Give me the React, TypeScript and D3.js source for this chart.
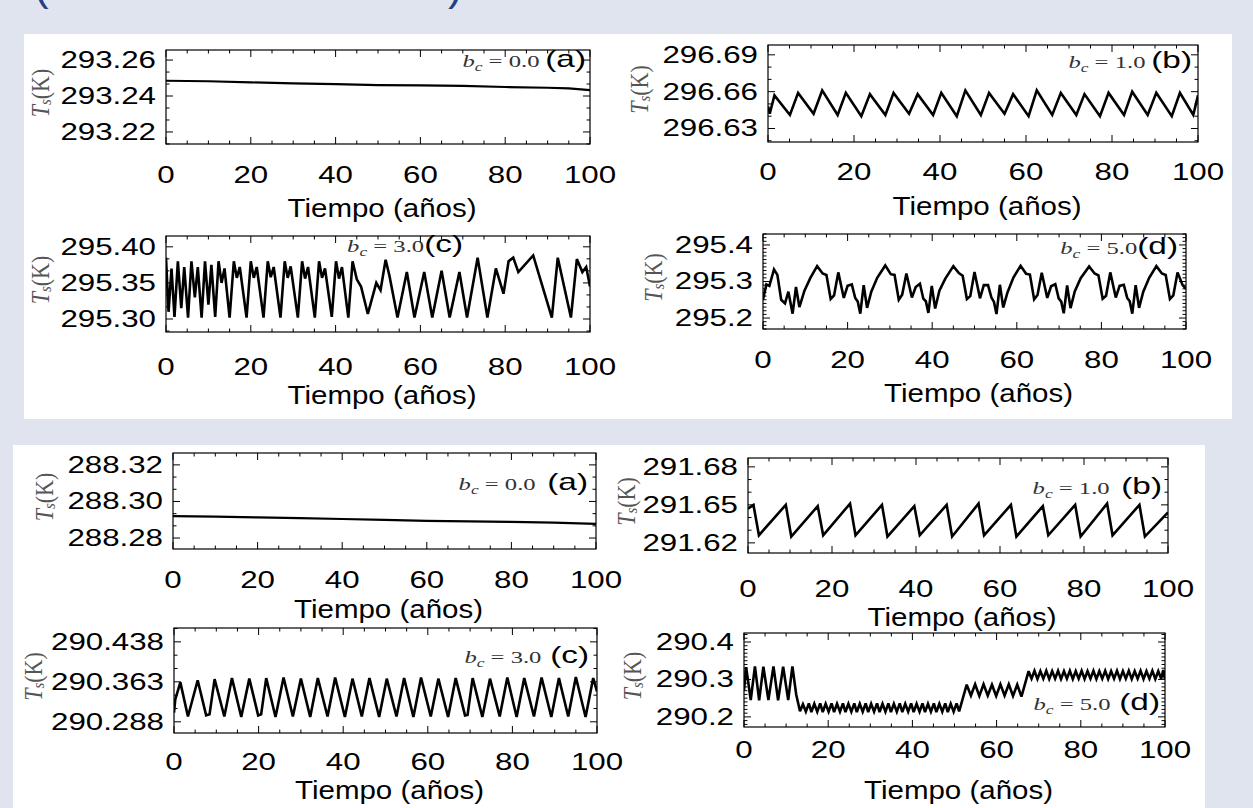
import React from 'react';
import * as d3 from 'd3';

const W = 1253;
const H = 808;

const SANS = "'Liberation Sans', Arial, Helvetica, sans-serif";
const SERIF = "'Liberation Serif', 'DejaVu Serif', serif";

// shared time axis (years)
const xTicks = [0, 20, 40, 60, 80, 100];
const xMinorStep = 5;

// ---------- upper figure ----------
const yTicksA1 = [293.22, 293.24, 293.26];
const tsA1 = [
  [0, 293.2485], [10, 293.2482], [20, 293.2476], [30, 293.247], [40, 293.2466], [50, 293.2461],
  [60, 293.2459], [70, 293.2456], [80, 293.245], [90, 293.2446], [95, 293.2443], [100, 293.2433],
];

const yTicksB1 = [296.63, 296.66, 296.69];
const tsB1 = [
  [0, 296.648], [0.4, 296.642], [1.5, 296.657], [5.1, 296.641], [7.0, 296.659], [10.6, 296.642],
  [12.6, 296.661], [16.2, 296.641], [18.1, 296.659], [21.7, 296.64], [23.7, 296.658], [27.3, 296.641],
  [29.2, 296.659], [32.8, 296.642], [34.8, 296.658], [38.4, 296.641], [40.3, 296.659], [43.9, 296.64],
  [45.9, 296.661], [49.5, 296.641], [51.4, 296.659], [55.0, 296.642], [57.0, 296.658], [60.6, 296.64],
  [62.5, 296.661], [66.1, 296.641], [68.1, 296.659], [71.7, 296.641], [73.6, 296.658], [77.2, 296.64],
  [79.2, 296.659], [82.8, 296.641], [84.7, 296.66], [88.3, 296.641], [90.3, 296.659], [93.9, 296.64],
  [95.8, 296.659], [98.9, 296.641], [100, 296.657],
];

const yTicksC1 = [295.3, 295.35, 295.4];
const tsC1 = [
  [0, 295.385], [0.6, 295.31], [1.3, 295.37], [2.0, 295.303], [2.8, 295.38], [3.6, 295.315],
  [4.3, 295.372], [5.2, 295.302], [6.0, 295.38], [6.8, 295.33], [7.5, 295.372], [8.4, 295.302],
  [9.2, 295.38], [10.0, 295.32], [10.7, 295.375], [11.6, 295.303], [12.4, 295.38], [13.1, 295.35],
  [13.8, 295.37], [15.0, 295.302], [16.0, 295.38], [16.7, 295.357], [17.4, 295.372], [19.0, 295.302],
  [20.0, 295.38], [20.7, 295.357], [21.4, 295.372], [23.0, 295.302], [24.0, 295.38], [24.7, 295.358],
  [25.4, 295.372], [27.0, 295.302], [28.0, 295.38], [28.7, 295.357], [29.4, 295.373], [31.1, 295.302],
  [32.1, 295.38], [32.8, 295.356], [33.5, 295.372], [35.1, 295.302], [36.1, 295.38], [36.8, 295.357],
  [37.5, 295.37], [39.1, 295.303], [40.1, 295.38], [40.8, 295.356], [41.5, 295.372], [43.0, 295.302],
  [44.0, 295.38], [45.0, 295.355], [46.0, 295.345], [47.6, 295.307], [49.6, 295.35], [50.6, 295.34],
  [51.8, 295.382], [52.7, 295.36], [54.6, 295.302], [56.8, 295.365], [58.6, 295.302], [60.9, 295.365],
  [62.8, 295.302], [65.0, 295.367], [66.9, 295.302], [69.2, 295.365], [71.0, 295.302], [73.5, 295.385],
  [75.8, 295.302], [77.8, 295.37], [79.6, 295.335], [80.8, 295.38], [81.9, 295.385], [83.1, 295.365],
  [86.6, 295.388], [91.0, 295.302], [92.4, 295.385], [95.5, 295.302], [96.9, 295.383], [98.2, 295.365],
  [99.1, 295.372], [100, 295.345],
];

const yTicksD1 = [295.2, 295.3, 295.4];
const tsD1 = [
  [0, 295.25], [0.8, 295.292], [1.5, 295.288], [2.6, 295.333], [3.4, 295.318], [4.3, 295.25],
  [5.2, 295.24], [6.0, 295.272], [7.0, 295.212], [7.8, 295.285], [8.6, 295.23], [9.8, 295.275],
  [11.2, 295.31],
  [12.8, 295.342], [14.1, 295.322], [15.0, 295.318], [16.0, 295.252], [16.8, 295.262], [17.8, 295.325],
  [19.1, 295.255], [20.0, 295.288], [21.0, 295.292], [21.8, 295.255], [22.4, 295.245], [23.0, 295.212],
  [23.8, 295.29], [24.6, 295.228], [25.6, 295.272], [27.0, 295.31],
  [28.9, 295.344], [30.2, 295.32], [31.1, 295.318], [32.1, 295.25], [32.9, 295.264], [33.9, 295.322],
  [35.2, 295.256], [36.1, 295.285], [37.1, 295.294], [37.9, 295.253], [38.5, 295.246], [39.1, 295.214],
  [39.9, 295.288], [40.7, 295.226], [41.7, 295.275], [43.1, 295.308],
  [45.0, 295.342], [46.3, 295.323], [47.2, 295.316], [48.2, 295.252], [49.0, 295.26], [50.0, 295.326],
  [51.3, 295.254], [52.2, 295.29], [53.2, 295.29], [54.0, 295.256], [54.6, 295.244], [55.2, 295.211],
  [56.0, 295.291], [56.8, 295.229], [57.8, 295.27], [59.2, 295.311],
  [60.9, 295.343], [62.2, 295.321], [63.1, 295.319], [64.1, 295.251], [64.9, 295.263], [65.9, 295.324],
  [67.2, 295.255], [68.1, 295.287], [69.1, 295.293], [69.9, 295.254], [70.5, 295.245], [71.1, 295.213],
  [71.9, 295.289], [72.7, 295.227], [73.7, 295.273], [75.1, 295.309],
  [77.1, 295.341], [78.4, 295.322], [79.3, 295.317], [80.3, 295.253], [81.1, 295.261], [82.1, 295.325],
  [83.4, 295.256], [84.3, 295.288], [85.3, 295.291], [86.1, 295.255], [86.7, 295.246], [87.3, 295.212],
  [88.1, 295.29], [88.9, 295.228], [89.9, 295.272], [91.3, 295.31],
  [93.0, 295.342], [94.3, 295.322], [95.2, 295.318], [96.2, 295.252], [97.0, 295.262], [98.0, 295.325],
  [99.2, 295.29], [100, 295.28],
];

// ---------- lower figure ----------
const yTicksA2 = [288.28, 288.3, 288.32];
const tsA2 = [
  [0, 288.292], [10, 288.2917], [20, 288.2913], [30, 288.2909], [40, 288.2904], [50, 288.2899],
  [60, 288.2894], [70, 288.2891], [80, 288.2888], [90, 288.2884], [100, 288.2877],
];

const yTicksB2 = [291.62, 291.65, 291.68];
const tsB2 = [
  [0, 291.647], [1.3, 291.65], [2.6, 291.626], [9.0, 291.65], [10.3, 291.625], [16.6, 291.649],
  [17.9, 291.626], [24.3, 291.651], [25.6, 291.626], [31.9, 291.65], [33.2, 291.625], [39.6, 291.649],
  [40.9, 291.626], [47.3, 291.65], [48.6, 291.625], [54.9, 291.651], [56.2, 291.626], [62.6, 291.65],
  [63.9, 291.625], [70.2, 291.649], [71.5, 291.626], [77.9, 291.65], [79.2, 291.625], [85.5, 291.651],
  [86.8, 291.626], [93.2, 291.65], [94.5, 291.625], [100, 291.644],
];

const yTicksC2 = [290.288, 290.363, 290.438];
const tsC2 = [
  [0, 290.305], [0.3, 290.33], [1.5, 290.362], [3.3, 290.298], [5.6, 290.366], [7.6, 290.3],
  [8.4, 290.302], [9.6, 290.368], [11.9, 290.298], [13.7, 290.37], [15.9, 290.297], [17.8, 290.369],
  [19.9, 290.3], [20.6, 290.302], [21.8, 290.37], [24.0, 290.297], [25.9, 290.371], [28.1, 290.298],
  [30.0, 290.369], [32.2, 290.297], [34.0, 290.37], [36.3, 290.298], [38.1, 290.371], [40.4, 290.297],
  [42.2, 290.369], [44.4, 290.298], [46.2, 290.37], [48.5, 290.297], [50.3, 290.369], [52.6, 290.298],
  [54.4, 290.37], [56.6, 290.297], [58.4, 290.371], [60.7, 290.298], [62.5, 290.369], [64.8, 290.297],
  [66.6, 290.37], [68.8, 290.3], [69.4, 290.301], [70.6, 290.37], [72.9, 290.297], [74.7, 290.369],
  [77.0, 290.298], [78.8, 290.371], [81.0, 290.297], [82.8, 290.37], [85.1, 290.298], [86.9, 290.371],
  [89.2, 290.297], [91.0, 290.37], [93.2, 290.298], [95.0, 290.372], [97.3, 290.297], [99.1, 290.37],
  [100, 290.345],
];

const yTicksD2 = [290.2, 290.3, 290.4];
const tsD2 = [
  [0, 290.27], [0.5, 290.333], [1.6, 290.245], [2.6, 290.335], [3.6, 290.244], [4.6, 290.334],
  [5.8, 290.245], [7.0, 290.335], [8.1, 290.244], [9.3, 290.334], [10.5, 290.245], [11.5, 290.335],
  [12.4, 290.26], [13.3, 290.215],
  [14.0, 290.234], [14.7, 290.214], [15.4, 290.236], [16.0, 290.213], [16.7, 290.235], [17.4, 290.214],
  [18.1, 290.236], [18.7, 290.213], [19.4, 290.235], [20.1, 290.214], [20.8, 290.236], [21.4, 290.213],
  [22.1, 290.235], [22.8, 290.214], [23.5, 290.236], [24.1, 290.213], [24.8, 290.235], [25.5, 290.214],
  [26.2, 290.236], [26.8, 290.213], [27.5, 290.235], [28.2, 290.214], [28.9, 290.236], [29.5, 290.213],
  [30.2, 290.235], [30.9, 290.214], [31.6, 290.236], [32.2, 290.213], [32.9, 290.235], [33.6, 290.214],
  [34.3, 290.236], [34.9, 290.213], [35.6, 290.235], [36.3, 290.214], [37.0, 290.236], [37.6, 290.213],
  [38.3, 290.235], [39.0, 290.214], [39.7, 290.236], [40.3, 290.213], [41.0, 290.235], [41.7, 290.214],
  [42.4, 290.236], [43.0, 290.213], [43.7, 290.235], [44.4, 290.214], [45.1, 290.236], [45.7, 290.213],
  [46.4, 290.235], [47.1, 290.214], [47.8, 290.236], [48.4, 290.213], [49.1, 290.235], [49.8, 290.214],
  [50.5, 290.236], [51.1, 290.215],
  [52.9, 290.286], [53.9, 290.257], [54.9, 290.287], [55.9, 290.256], [56.9, 290.287], [57.9, 290.257],
  [58.9, 290.286], [59.9, 290.256], [60.9, 290.287], [61.9, 290.257], [62.9, 290.287], [63.9, 290.256],
  [64.9, 290.286], [65.9, 290.254],
  [67.6, 290.322], [68.3, 290.302], [69.0, 290.323], [69.7, 290.301], [70.4, 290.322], [71.1, 290.302],
  [71.8, 290.323], [72.5, 290.301], [73.2, 290.322], [73.9, 290.302], [74.6, 290.323], [75.3, 290.301],
  [76.0, 290.322], [76.7, 290.302], [77.4, 290.323], [78.1, 290.301], [78.8, 290.322], [79.5, 290.302],
  [80.2, 290.323], [80.9, 290.301], [81.6, 290.322], [82.3, 290.302], [83.0, 290.323], [83.7, 290.301],
  [84.4, 290.322], [85.1, 290.302], [85.8, 290.323], [86.5, 290.301], [87.2, 290.322], [87.9, 290.302],
  [88.6, 290.323], [89.3, 290.301], [90.0, 290.322], [90.7, 290.302], [91.4, 290.323], [92.1, 290.301],
  [92.8, 290.322], [93.5, 290.302], [94.2, 290.323], [94.9, 290.301], [95.6, 290.322], [96.3, 290.302],
  [97.0, 290.323], [97.7, 290.301], [98.4, 290.322], [99.1, 290.302], [99.6, 290.325], [100, 290.3],
];

const bcValues = ['0.0', '1.0', '3.0', '5.0'];
const tags = ['(a)', '(b)', '(c)', '(d)'];

// layout of the eight small plots (pixel boxes copied off the slide)
const plots = [
  { key: 'a1', data: tsA1, yTicks: yTicksA1, fmt: '.2f', yDomain: [293.2133, 293.2656], minor: 3,
    x0: 166, x1: 590, y0: 50, y1: 144, tsX: 40, xLabY: 175, titleY: 208, bc: bcValues[0], tag: tags[0],
    ax: 586, ay: 67, gap: 4, lw: 2.2 },
  { key: 'b1', data: tsB1, yTicks: yTicksB1, fmt: '.2f', yDomain: [296.619, 296.698], minor: 3,
    x0: 768, x1: 1198, y0: 45, y1: 142, tsX: 639, xLabY: 172, titleY: 206, bc: bcValues[1], tag: tags[1],
    ax: 1192, ay: 68, gap: 4, lw: 2.6 },
  { key: 'c1', data: tsC1, yTicks: yTicksC1, fmt: '.2f', yDomain: [295.282, 295.415], minor: 3,
    x0: 166, x1: 590, y0: 236, y1: 332, tsX: 40, xLabY: 367, titleY: 395, bc: bcValues[2], tag: tags[2],
    ax: 463, ay: 252, gap: 0, lw: 2.6 },
  { key: 'd1', data: tsD1, yTicks: yTicksD1, fmt: '.1f', yDomain: [295.17, 295.43], minor: 10,
    x0: 763, x1: 1186, y0: 234, y1: 329, tsX: 653, xLabY: 360, titleY: 393, bc: bcValues[3], tag: tags[3],
    ax: 1178, ay: 254, gap: 0, lw: 2.6 },
  { key: 'a2', data: tsA2, yTicks: yTicksA2, fmt: '.2f', yDomain: [288.274, 288.3265], minor: 3,
    x0: 173, x1: 596, y0: 453, y1: 549, tsX: 44, xLabY: 580, titleY: 609, bc: bcValues[0], tag: tags[0],
    ax: 588, ay: 490, gap: 8, lw: 2.2 },
  { key: 'b2', data: tsB2, yTicks: yTicksB2, fmt: '.2f', yDomain: [291.612, 291.687], minor: 3,
    x0: 748, x1: 1168, y0: 458, y1: 553, tsX: 626, xLabY: 589, titleY: 617, bc: bcValues[1], tag: tags[1],
    ax: 1162, ay: 494, gap: 8, lw: 2.6 },
  { key: 'c2', data: tsC2, yTicks: yTicksC2, fmt: '.3f', yDomain: [290.267, 290.464], minor: 3,
    x0: 174, x1: 597, y0: 628, y1: 733, tsX: 33, xLabY: 762, titleY: 790, bc: bcValues[2], tag: tags[2],
    ax: 589, ay: 663, gap: 6, lw: 2.6 },
  { key: 'd2', data: tsD2, yTicks: yTicksD2, fmt: '.1f', yDomain: [290.173, 290.424], minor: 10,
    x0: 744, x1: 1165, y0: 633, y1: 727, tsX: 632, xLabY: 750, titleY: 790, bc: bcValues[3], tag: tags[3],
    ax: 1160, ay: 710, gap: 6, lw: 2.6 },
];

const NUM_SX = 1.36; // the slide stretched the figure sideways

function Plot({ p }) {
  const x = d3.scaleLinear().domain([0, 100]).range([p.x0, p.x1]);
  const y = d3.scaleLinear().domain(p.yDomain).range([p.y1, p.y0]);
  const line = d3.line().x(d => x(d[0])).y(d => y(d[1]));

  const step = p.yTicks[1] - p.yTicks[0];
  const ms = step / p.minor;
  const kLo = Math.ceil((p.yDomain[0] - p.yTicks[0]) / ms - 1e-6);
  const kHi = Math.floor((p.yDomain[1] - p.yTicks[0]) / ms + 1e-6);
  const yMinor = d3.range(kLo, kHi + 1).map(k => p.yTicks[0] + k * ms);
  const xMinor = d3.range(0, 100.001, xMinorStep);
  const fmt = d3.format(p.fmt);
  const cx = (p.x0 + p.x1) / 2;
  const cy = (p.y0 + p.y1) / 2;

  return (
    <g>
      <defs>
        <clipPath id={`clip-${p.key}`}>
          <rect x={p.x0} y={p.y0} width={p.x1 - p.x0} height={p.y1 - p.y0} />
        </clipPath>
      </defs>

      {/* ticks on all four sides, pointing in */}
      <g stroke="#000" strokeWidth={1}>
        {xMinor.map(v => {
          const len = v % 20 === 0 ? 7 : 3.5;
          return (
            <g key={`xt${v}`}>
              <line x1={x(v)} x2={x(v)} y1={p.y1} y2={p.y1 - len} />
              <line x1={x(v)} x2={x(v)} y1={p.y0} y2={p.y0 + len} />
            </g>
          );
        })}
        {yMinor.map((v, i) => {
          const major = p.yTicks.some(t => Math.abs(t - v) < ms / 10);
          const len = major ? 7 : 3.5;
          return (
            <g key={`yt${i}`}>
              <line x1={p.x0} x2={p.x0 + len} y1={y(v)} y2={y(v)} />
              <line x1={p.x1} x2={p.x1 - len} y1={y(v)} y2={y(v)} />
            </g>
          );
        })}
      </g>

      <path d={line(p.data)} fill="none" stroke="#000" strokeWidth={p.lw}
        strokeLinejoin="miter" strokeMiterlimit={3} clipPath={`url(#clip-${p.key})`} />

      <rect x={p.x0} y={p.y0} width={p.x1 - p.x0} height={p.y1 - p.y0}
        fill="none" stroke="#000" strokeWidth={1.2} />

      {/* y tick labels */}
      {p.yTicks.map(v => (
        <text key={`yl${v}`} transform={`translate(${p.x0 - 10},${y(v)}) scale(${NUM_SX},1)`}
          textAnchor="end" dominantBaseline="central" fontFamily={SANS} fontSize={23} fill="#000">
          {fmt(v)}
        </text>
      ))}

      {/* x tick labels */}
      {xTicks.map(v => (
        <text key={`xl${v}`} transform={`translate(${x(v)},${p.xLabY}) scale(${NUM_SX},1)`}
          textAnchor="middle" dominantBaseline="central" fontFamily={SANS} fontSize={23} fill="#000">
          {v}
        </text>
      ))}

      <text transform={`translate(${cx + 4},${p.titleY}) scale(1.18,1)`} textAnchor="middle"
        dominantBaseline="central" fontFamily={SANS} fontSize={25} fill="#000">
        Tiempo (años)
      </text>

      <text transform={`translate(${p.tsX},${cy - 4}) rotate(-90) scale(1,1.15)`} textAnchor="middle"
        dominantBaseline="central" fontFamily={SERIF} fontSize={22} fill="#555">
        <tspan fontStyle="italic">T</tspan>
        <tspan fontStyle="italic" fontSize={15} dy={4}>s</tspan>
        <tspan dy={-4}>(K)</tspan>
      </text>

      <text transform={`translate(${p.ax},${p.ay}) scale(1.45,1)`} textAnchor="end">
        <tspan fontFamily={SERIF} fontStyle="italic" fontSize={17} fill="#333">b</tspan>
        <tspan fontFamily={SERIF} fontStyle="italic" fontSize={12} fill="#333" dy={4}>c</tspan>
        <tspan fontFamily={SERIF} fontSize={17} fill="#333" dy={-4}>{` = ${p.bc}`}</tspan>
        <tspan fontFamily={SANS} fontSize={23} fill="#000" dx={p.gap}>{p.tag}</tspan>
      </text>
    </g>
  );
}

export default function App() {
  return (
    <svg width={W} height={H} viewBox={`0 0 ${W} ${H}`}
      style={{ position: 'absolute', left: 0, top: 0, display: 'block' }}>
      <rect x={0} y={0} width={W} height={H} fill="#e0e4ee" />

      {/* tail of the slide title, cut off at the top */}
      <text x={34} y={0} fontFamily={SANS} fontSize={44} fill="#243f86">(</text>
      <text x={448} y={0} fontFamily={SANS} fontSize={44} fill="#243f86">)</text>

      <rect x={24} y={34} width={1208} height={385} fill="#fff" />
      <rect x={13} y={445} width={1192} height={363} fill="#fff" />

      {plots.map(p => <Plot key={p.key} p={p} />)}
    </svg>
  );
}
